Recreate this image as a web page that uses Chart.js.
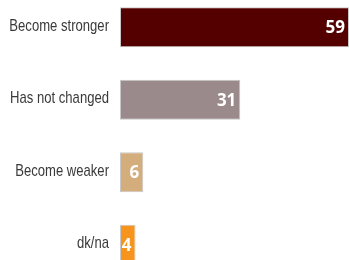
<!DOCTYPE html>
<html>
<head>
<meta charset="utf-8">
<script src="https://cdn.jsdelivr.net/npm/chart.js@4/dist/chart.umd.min.js"></script>
<style>
html,body{margin:0;padding:0;background:#fff;overflow:hidden;width:349px;height:260px;}
#wrap{position:absolute;left:0;top:-9px;width:349px;height:290px;}
</style>
</head>
<body>
<div id="wrap"><canvas id="c"></canvas></div>
<script>
const categories = ["Become stronger", "Has not changed", "Become weaker", "dk/na"];
const values = [59, 31, 6, 4];
const barColors = ["#540000", "#9b8a8c", "#d4ad7c", "#f7941d"];

const labelsPlugin = {
  id: 'labelsPlugin',
  afterDatasetsDraw(chart) {
    const ctx = chart.ctx;
    const meta = chart.getDatasetMeta(0);
    const yScale = chart.scales.y;
    ctx.save();
    // value labels inside bars
    ctx.fillStyle = '#ffffff';
    ctx.font = 'bold 17px "Open Sans", sans-serif';
    ctx.textAlign = 'right';
    ctx.textBaseline = 'middle';
    meta.data.forEach((bar, i) => {
      ctx.fillText(String(values[i]), bar.x - 4, bar.y + 1);
    });
    // category labels (condensed)
    ctx.fillStyle = '#3a3a3a';
    ctx.font = '17px "Liberation Sans", Arial, sans-serif';
    categories.forEach((lab, i) => {
      const y = yScale.getPixelForTick(i);
      ctx.save();
      ctx.translate(chart.chartArea.left - 11, y);
      ctx.scale(0.77, 1);
      ctx.fillText(lab, 0, -1);
      ctx.restore();
    });
    ctx.restore();
  }
};

new Chart(document.getElementById('c'), {
  type: 'bar',
  data: {
    labels: categories,
    datasets: [{
      data: values,
      backgroundColor: barColors,
      borderColor: '#c8c8c8',
      borderWidth: 1,
      borderSkipped: false,
      barPercentage: 0.55,
      categoryPercentage: 1.0
    }]
  },
  options: {
    indexAxis: 'y',
    responsive: true,
    maintainAspectRatio: false,
    animation: false,
    layout: { padding: 0 },
    plugins: { legend: { display: false }, tooltip: { enabled: false } },
    scales: {
      x: { display: false, min: 0, max: 59 },
      y: {
        grid: { display: false },
        border: { display: false },
        ticks: { display: false },
        afterFit(scale) { scale.width = 120; scale.paddingTop = 0; scale.paddingBottom = 0; }
      }
    }
  },
  plugins: [labelsPlugin]
});
</script>
</body>
</html>
